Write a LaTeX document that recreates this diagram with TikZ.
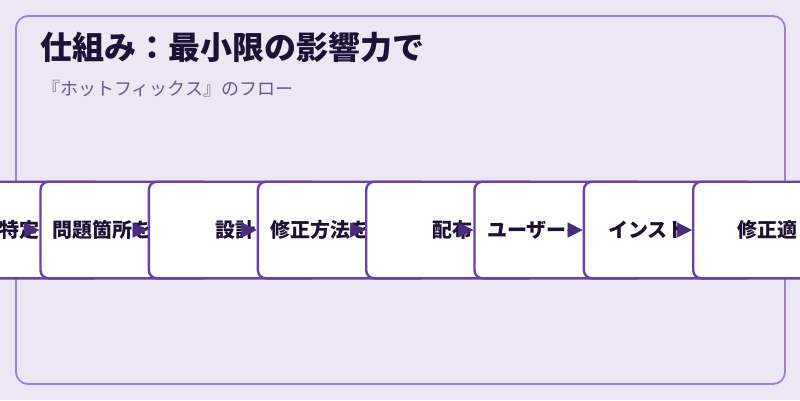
\documentclass[tikz,border=0pt]{standalone}
\usepackage{fontspec}
\newfontfamily\jp{Noto Sans CJK JP}
\usetikzlibrary{arrows.meta}
\definecolor{bgc}{HTML}{EDE6F5}
\definecolor{framec}{HTML}{A07FD0}
\definecolor{boxc}{HTML}{6B40A8}
\definecolor{arrc}{HTML}{4B2A80}
\definecolor{txtc}{HTML}{1E1135}
\definecolor{subc}{HTML}{6A5A8C}
\tikzset{
  stepbox/.style={draw=boxc, line width=2.4pt, fill=white, rounded corners=8pt,
    minimum width=170pt, minimum height=96.6pt, anchor=west, inner sep=0pt},
  steptext/.style={anchor=west, inner sep=0pt, text=txtc, font=\jp\bfseries\fontsize{20pt}{24pt}\selectfont},
  flow/.style={draw=arrc, line width=0.5pt, -{Triangle[length=15pt,width=15pt]}, arrc},
}
\begin{document}
\begin{tikzpicture}[x=1pt,y=-1pt]
\useasboundingbox (0,0) rectangle (800,400);
\fill[bgc] (0,0) rectangle (800,400);
\draw[framec, line width=1.8pt, rounded corners=12pt] (16,16) rectangle (785,384);
\node[anchor=west, inner sep=0pt, text=txtc, font=\jp\bfseries\fontsize{32pt}{36pt}\selectfont] (title) at (40,47) {仕組み：最小限の影響力で};
\node[anchor=west, inner sep=0pt, text=subc, font=\jp\fontsize{18pt}{21pt}\selectfont] (sub) at (42,89) {『ホットフィックス』のフロー};

% anchor points of the boxes (left middle)
\coordinate (p0) at (-69.7,230);
\coordinate (p1) at (39.3,230);
\coordinate (p2) at (147.7,230);
\coordinate (p3) at (256.7,230);
\coordinate (p4) at (365,230);
\coordinate (p5) at (473.3,230);
\coordinate (p6) at (582.7,230);
\coordinate (p7) at (692,230);
\foreach \i in {1,...,7}{\coordinate (q\i) at ([xshift=-15.5pt]p\i);}

\node[stepbox] (b0) at (p0) {};
\node[steptext] (t0) at (-1,230) {特定};
\draw[flow] (q1) -- (p1);
\node[stepbox] (b1) at (p1) {};
\node[steptext] (t1) at (52,230) {問題箇所を};
\draw[flow] (q2) -- (p2);
\node[stepbox] (b2) at (p2) {};
\node[steptext] (t2) at (215,230) {設計};
\draw[flow] (q3) -- (p3);
\node[stepbox] (b3) at (p3) {};
\node[steptext] (t3) at (270,230) {修正方法を};
\draw[flow] (q4) -- (p4);
\node[stepbox] (b4) at (p4) {};
\node[steptext] (t4) at (432,230) {配布};
\draw[flow] (q5) -- (p5);
\node[stepbox] (b5) at (p5) {};
\node[steptext] (t5) at (487,230) {ユーザー};
\draw[flow] (q6) -- (p6);
\node[stepbox] (b6) at (p6) {};
\node[steptext] (t6) at (608,230) {インスト};
\draw[flow] (q7) -- (p7);
\node[stepbox] (b7) at (p7) {};
\node[steptext] (t7) at (737,230) {修正適};
\end{tikzpicture}
\end{document}
